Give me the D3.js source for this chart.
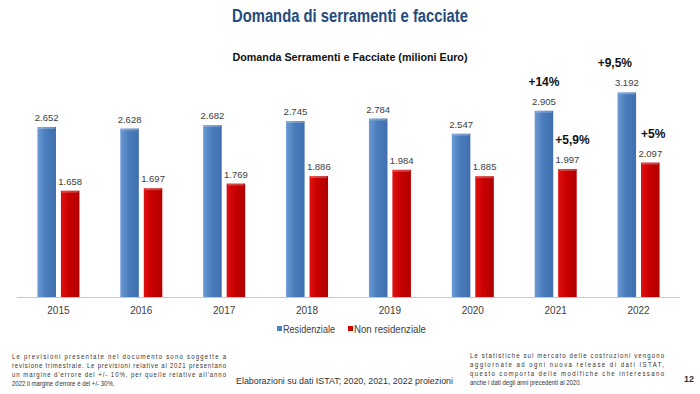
<!DOCTYPE html>
<html lang="it">
<head>
<meta charset="utf-8">
<script src="https://d3js.org/d3.v7.min.js"></script>
<style>
  body { margin: 0; background: #fff; }
  svg { display: block; background: #fff; font-family: "Liberation Sans", Arial, sans-serif; }
  .val { font-size: 9.5px; fill: #404040; }
  .year { font-size: 10px; fill: #404040; }
  .growth { font-size: 12px; font-weight: bold; fill: #111; }
  .note { font-size: 7.2px; fill: #333; }
</style>
</head>
<body>
<svg width="700" height="394"></svg>
<script>
// dati (milioni di euro)
const years = ["2015", "2016", "2017", "2018", "2019", "2020", "2021", "2022"];
const series = ["Residenziale", "Non residenziale"];
const residenziale = [2652, 2628, 2682, 2745, 2784, 2547, 2905, 3192];
const nonResidenziale = [1658, 1697, 1769, 1886, 1984, 1885, 1997, 2097];
const growth = [
  {year: "2021", serie: "Residenziale", label: "+14%"},
  {year: "2022", serie: "Residenziale", label: "+9,5%"},
  {year: "2021", serie: "Non residenziale", label: "+5,9%"},
  {year: "2022", serie: "Non residenziale", label: "+5%"}
];
const noteLeft = [
  "Le previsioni presentate nel documento sono soggette a",
  "revisione trimestrale. Le previsioni relative al 2021 presentano",
  "un margine d'errore del +/- 10%, per quelle relative all'anno",
  "2022 il margine d'errore è del +/- 30%."
];
const noteRight = [
  "Le statistiche sul mercato delle costruzioni vengono",
  "aggiornate ad ogni nuova release di dati ISTAT,",
  "questo comporta delle modifiche che interessano",
  "anche i dati degli anni precedenti al 2020."
];

const data = years.map((y, i) => ({
  year: y,
  values: [
    {serie: series[0], value: residenziale[i]},
    {serie: series[1], value: nonResidenziale[i]}
  ]
}));

const svg = d3.select("svg");
const colors = {"Residenziale": "#4f81bd", "Non residenziale": "#cc0000"};

// gradients for the excel look
const defs = svg.append("defs");
[["gBlue", "#6b9bd6", "#4a7cbc", "#3f6fae"], ["gRed", "#e01010", "#c80000", "#b00000"]].forEach(g => {
  const lg = defs.append("linearGradient").attr("id", g[0]).attr("x1", 0).attr("x2", 1).attr("y1", 0).attr("y2", 0);
  lg.append("stop").attr("offset", "0%").attr("stop-color", g[1]);
  lg.append("stop").attr("offset", "45%").attr("stop-color", g[2]);
  lg.append("stop").attr("offset", "100%").attr("stop-color", g[3]);
});
const fillOf = {"Residenziale": "url(#gBlue)", "Non residenziale": "url(#gRed)"};

const x0 = d3.scaleBand().domain(years).range([17, 680]).padding(0);
const x1 = d3.scaleBand().domain(series)
  .range([x0.bandwidth() / 2 - 21, x0.bandwidth() / 2 + 21])
  .paddingInner(0.21);
const y = d3.scaleLinear().domain([0, 3500]).range([297, 72.6]);

const fmt = d3.formatLocale({decimal: ",", thousands: ".", grouping: [3], currency: ["", "€"]}).format(",d");

// titolo
svg.append("text")
  .attr("x", 350).attr("y", 22).attr("text-anchor", "middle")
  .attr("font-size", 18).attr("font-weight", "bold").attr("fill", "#254a7c")
  .attr("textLength", 236).attr("lengthAdjust", "spacingAndGlyphs")
  .text("Domanda di serramenti e facciate");

svg.append("text")
  .attr("x", 350).attr("y", 61).attr("text-anchor", "middle")
  .attr("font-size", 11.5).attr("font-weight", "bold").attr("fill", "#111")
  .attr("textLength", 235).attr("lengthAdjust", "spacingAndGlyphs")
  .text("Domanda Serramenti e Facciate (milioni Euro)");

// asse x
svg.append("line")
  .attr("x1", x0.range()[0]).attr("x2", x0.range()[1])
  .attr("y1", y(0) + 0.5).attr("y2", y(0) + 0.5)
  .attr("stroke", "#c8c8c8").attr("stroke-width", 1.2);

const groups = svg.append("g").selectAll("g").data(data).join("g")
  .attr("transform", d => `translate(${x0(d.year)},0)`);

groups.selectAll("rect").data(d => d.values).join("rect")
  .attr("x", d => x1(d.serie))
  .attr("width", x1.bandwidth())
  .attr("y", d => y(d.value))
  .attr("height", d => y(0) - y(d.value))
  .attr("fill", d => fillOf[d.serie]);

// riflesso sul bordo superiore
groups.selectAll("rect.cap").data(d => d.values).join("rect")
  .attr("class", "cap")
  .attr("x", d => x1(d.serie) + 1)
  .attr("width", x1.bandwidth() - 2)
  .attr("y", d => y(d.value))
  .attr("height", 2)
  .attr("fill", "#fff").attr("opacity", 0.25);

groups.selectAll("text.val").data(d => d.values).join("text")
  .attr("class", "val")
  .attr("x", d => x1(d.serie) + x1.bandwidth() / 2)
  .attr("y", d => y(d.value) - 6)
  .attr("text-anchor", "middle")
  .text(d => fmt(d.value));

groups.append("text").attr("class", "year")
  .attr("x", x0.bandwidth() / 2).attr("y", 314)
  .attr("text-anchor", "middle")
  .text(d => d.year);

// etichette di crescita
const valueOf = (yr, s) => (s === series[0] ? residenziale : nonResidenziale)[years.indexOf(yr)];
const dxOf = {"+14%": 0, "+9,5%": -12, "+5,9%": 5, "+5%": 3};
svg.append("g").selectAll("text").data(growth).join("text")
  .attr("class", "growth")
  .attr("x", d => x0(d.year) + x1(d.serie) + x1.bandwidth() / 2 + dxOf[d.label])
  .attr("y", d => y(valueOf(d.year, d.serie)) - 25)
  .attr("text-anchor", "middle")
  .text(d => d.label);

// legenda
const legend = svg.append("g").attr("font-size", 11).attr("fill", "#404040");
const legX = [277, 348], legW = [52, 72];
series.forEach((s, i) => {
  legend.append("rect").attr("x", legX[i]).attr("y", 326).attr("width", 5).attr("height", 5).attr("fill", colors[s]);
  legend.append("text").attr("x", legX[i] + 6).attr("y", 332.5)
    .attr("textLength", legW[i]).attr("lengthAdjust", "spacingAndGlyphs").text(s);
});

// note (testo giustificato, carattere stretto)
const squeeze = 0.84;
function paragraph(lines, x, y0, width) {
  const g = svg.append("g").attr("class", "note")
    .attr("transform", `translate(${x},0) scale(${squeeze},1)`);
  lines.forEach((l, i) => {
    const t = g.append("text").attr("x", 0).attr("y", y0 + i * 9).text(l);
    if (i < lines.length - 1) t.attr("textLength", width / squeeze).attr("lengthAdjust", "spacing");
  });
}
paragraph(noteLeft, 12, 359, 214);
paragraph(noteRight, 470, 358, 194);

svg.append("text")
  .attr("x", 236).attr("y", 384).attr("font-size", 9).attr("fill", "#333")
  .attr("textLength", 217).attr("lengthAdjust", "spacingAndGlyphs")
  .text("Elaborazioni su dati ISTAT; 2020, 2021, 2022 proiezioni");

svg.append("text")
  .attr("x", 689).attr("y", 382).attr("text-anchor", "middle")
  .attr("font-size", 9).attr("font-weight", "bold").attr("fill", "#333")
  .text("12");
</script>
</body>
</html>
